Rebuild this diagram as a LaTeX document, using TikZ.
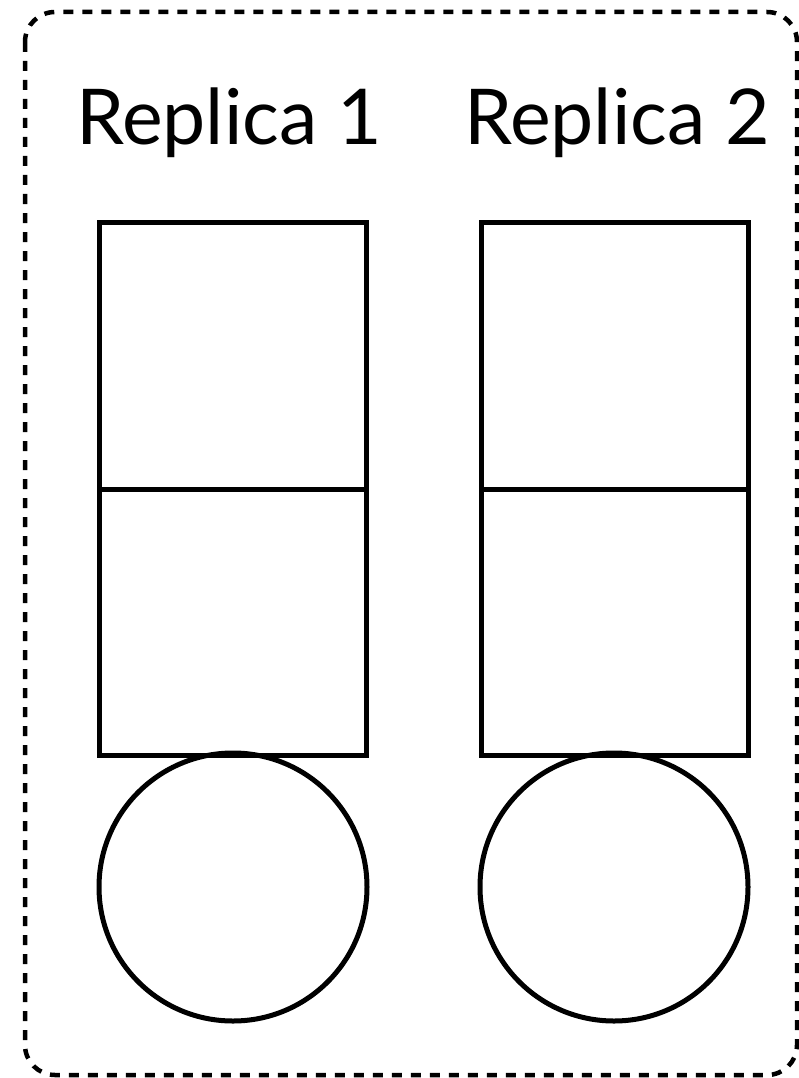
\documentclass[tikz,border=0pt]{standalone}
\usepackage{fontspec}
\setmainfont{Lato}
\begin{document}
\begin{tikzpicture}[x=1pt,y=-1pt,
  box/.style={draw=black,line width=5pt,minimum width=267pt,minimum height=267pt,inner sep=0pt,anchor=north west},
  disc/.style={draw=black,line width=5pt,circle,minimum size=268pt,inner sep=0pt},
  title/.style={anchor=base west,inner sep=0pt,font=\fontsize{77}{88}\selectfont},
  frame/.style={draw=black,line width=4.5pt,dash pattern=on 10pt off 9pt,rounded corners=30pt}]
\useasboundingbox (0,0) rectangle (798,1078);
\fill[white] (0,0) rectangle (798,1078);
\draw[frame] (25,12) rectangle (797,1075);
\node[title] (t1) at (76,145) {Replica 1};
\node[title] (t2) at (464,145) {Replica 2};
\node[box] (a1) at (97,220) {};
\node[box,minimum height=266pt] (b1) at (97,487) {};
\node[box] (a2) at (479,220) {};
\node[box,minimum height=266pt] (b2) at (479,487) {};
\node[disc] (c1) at (233,887) {};
\node[disc] (c2) at (614,887) {};
\end{tikzpicture}
\end{document}
